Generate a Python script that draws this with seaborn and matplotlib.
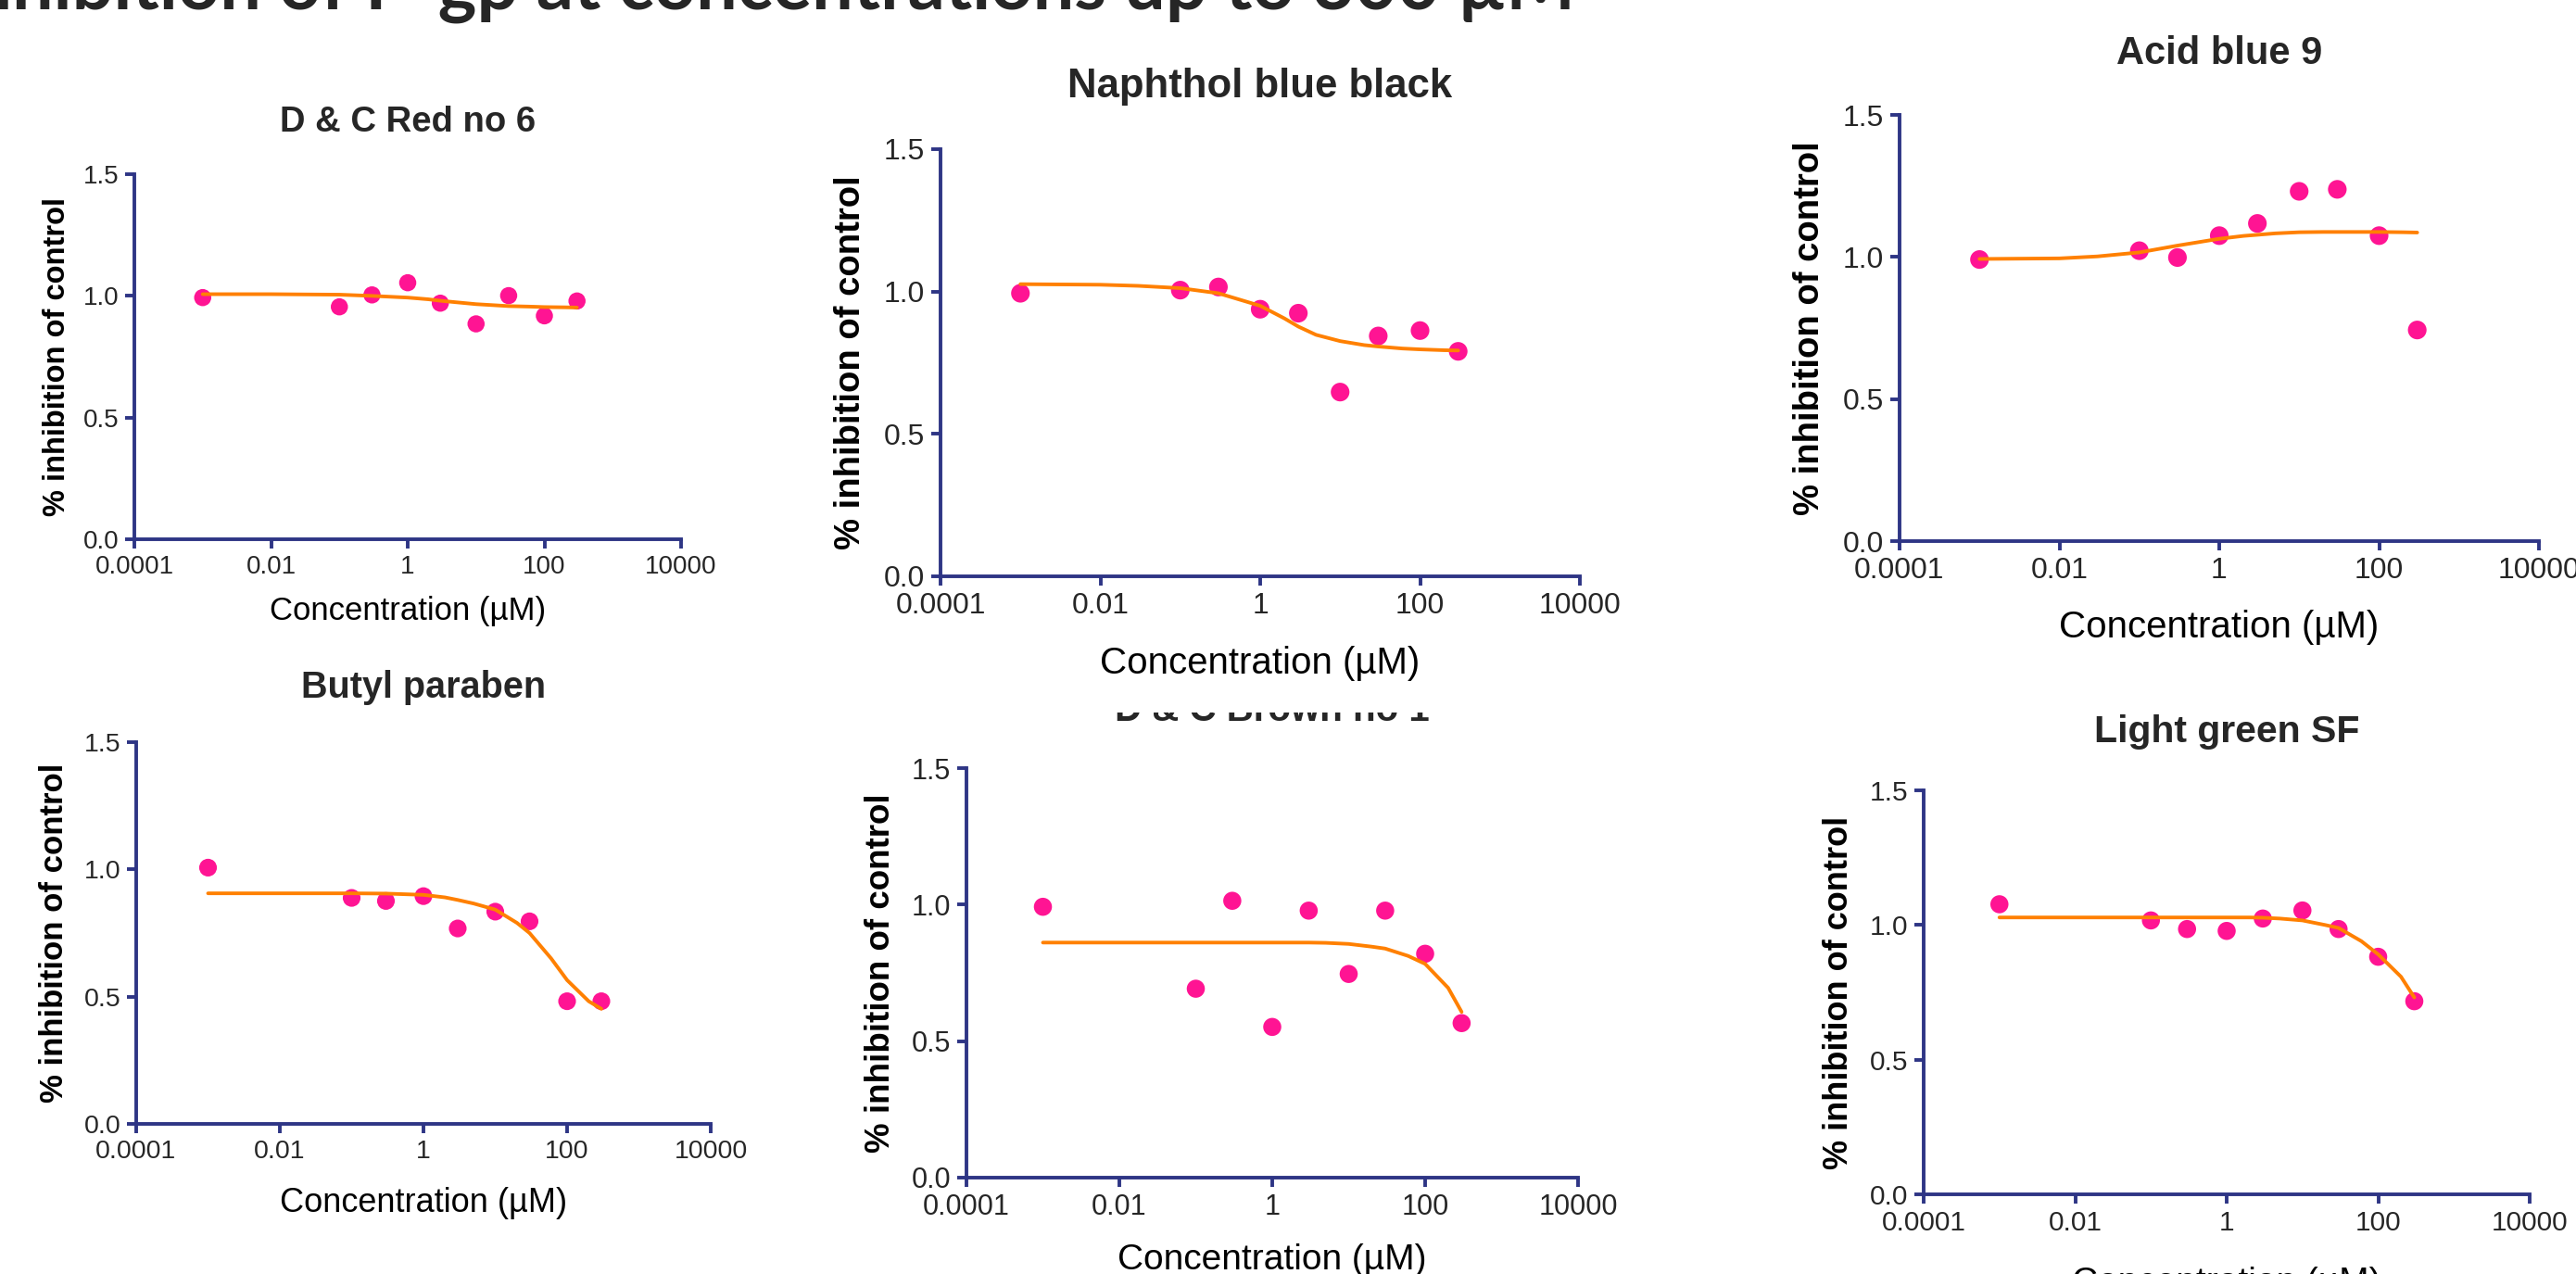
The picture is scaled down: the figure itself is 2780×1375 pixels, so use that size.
import matplotlib
matplotlib.use("Agg")
import matplotlib.pyplot as plt
from matplotlib.patches import Rectangle
from matplotlib.ticker import NullLocator
import seaborn as sns

sns.set_style("ticks")
plt.rcParams['font.family'] = ['Liberation Sans', 'DejaVu Sans']

# concentrations tested (uM) and the x positions used to trace the fitted curves
conc = [0.001, 0.1, 0.3, 1, 3, 10, 30, 100, 300]
fit_conc = [0.001, 0.01, 0.03, 0.1, 0.3, 1, 2, 3, 5, 10, 20, 30, 60, 100, 200, 300]

red6_obs = [0.993, 0.955, 1.004, 1.054, 0.970, 0.885, 1.001, 0.918, 0.979]
naphthol_obs = [0.994, 1.005, 1.016, 0.938, 0.924, 0.647, 0.844, 0.863, 0.790]
acid9_obs = [0.991, 1.022, 0.998, 1.075, 1.118, 1.231, 1.238, 1.075, 0.743]
butyl_obs = [1.007, 0.888, 0.876, 0.895, 0.768, 0.834, 0.796, 0.482, 0.482]
brown1_obs = [0.992, 0.692, 1.014, 0.552, 0.978, 0.746, 0.978, 0.820, 0.566]
lgreen_obs = [1.077, 1.017, 0.985, 0.978, 1.024, 1.054, 0.985, 0.882, 0.717]

# fitted curves at fit_conc
red6_fit = [1.007, 1.007, 1.006, 1.005, 1.000, 0.993, 0.986, 0.980, 0.974, 0.966,
            0.961, 0.958, 0.956, 0.954, 0.953, 0.952]
naphthol_fit = [1.026, 1.024, 1.020, 1.012, 0.994, 0.950, 0.906, 0.877, 0.848, 0.826,
                0.812, 0.807, 0.800, 0.797, 0.794, 0.793]
acid9_fit = [0.993, 0.995, 1.002, 1.016, 1.040, 1.064, 1.074, 1.078, 1.083, 1.087,
             1.088, 1.088, 1.088, 1.088, 1.087, 1.086]
butyl_fit = [0.906, 0.906, 0.906, 0.906, 0.905, 0.900, 0.890, 0.880, 0.866, 0.842,
             0.790, 0.750, 0.650, 0.565, 0.482, 0.452]
brown1_fit = [0.861, 0.861, 0.861, 0.861, 0.861, 0.861, 0.861, 0.861, 0.860, 0.856,
              0.846, 0.839, 0.812, 0.783, 0.695, 0.607]
lgreen_fit = [1.028, 1.028, 1.028, 1.028, 1.028, 1.028, 1.028, 1.027, 1.024, 1.017,
              1.000, 0.989, 0.940, 0.891, 0.808, 0.731]

names = ["D & C Red no 6", "Naphthol blue black", "Acid blue 9",
         "Butyl paraben", "D & C Brown no 1", "Light green SF"]
observed = [red6_obs, naphthol_obs, acid9_obs, butyl_obs, brown1_obs, lgreen_obs]
fitted = [red6_fit, naphthol_fit, acid9_fit, butyl_fit, brown1_fit, lgreen_fit]

xticks = [1e-4, 1e-2, 1, 1e2, 1e4]
xticklabels = ["0.0001", "0.01", "1", "100", "10000"]
yticks = [0.0, 0.5, 1.0, 1.5]
yticklabels = ["0.0", "0.5", "1.0", "1.5"]

W, H = 2780, 1375

def fx(x):
    return x / W

def fy(y):
    return 1 - y / H

# layout of each pasted panel in pixels: axes box (left, top, right, bottom),
# title baseline, ylabel x, xlabel y, font sizes (tick, ylabel, xlabel, title), marker scale
layout = [
    dict(box=(145, 188, 735, 582), tb=142, yl=62, xl=660, fs=(20, 23.5, 25, 27.5), m=0.92),
    dict(box=(1015, 161, 1705, 622), tb=105, yl=918, xl=716, fs=(23, 27.5, 29, 31.5), m=1.0),
    dict(box=(2050, 124, 2740, 584), tb=69, yl=1953, xl=677, fs=(23, 27.5, 29, 30), m=1.0),
    dict(box=(147, 801, 767, 1213), tb=753, yl=59, xl=1298, fs=(20.5, 25, 26, 28.5), m=0.95),
    dict(box=(1043, 829, 1703, 1271), tb=778, yl=950, xl=1360, fs=(22, 26.5, 28, 29), m=0.97),
    dict(box=(2076, 853, 2730, 1289), tb=801, yl=1984, xl=1385, fs=(21.5, 26, 28, 29.5), m=0.97),
]

navy = "#2E3585"
pink = "#FF1493"
orange = "#FF8000"

fig = plt.figure(figsize=(W / 100, H / 100), dpi=100)
fig.patch.set_facecolor("white")

for name, obs, fit, lay in zip(names, observed, fitted, layout):
    x0, y0, x1, y1 = lay["box"]
    fs_tick, fs_yl, fs_xl, fs_title = lay["fs"]
    ax = fig.add_axes([fx(x0), fy(y1), (x1 - x0) / W, (y1 - y0) / H])
    ax.set_facecolor("none")

    sns.scatterplot(x=conc, y=obs, ax=ax, color=pink, s=210 * lay["m"] ** 2,
                    edgecolor="none", zorder=3)
    sns.lineplot(x=fit_conc, y=fit, ax=ax, color=orange, linewidth=2.8, zorder=4)

    ax.set_xscale("log")
    ax.set_xlim(1e-4, 1e4)
    ax.set_ylim(0, 1.5)
    ax.set_xticks(xticks)
    ax.set_xticklabels(xticklabels)
    ax.set_yticks(yticks)
    ax.set_yticklabels(yticklabels)
    ax.xaxis.set_minor_locator(NullLocator())
    ax.tick_params(axis="both", length=7, width=2.8, color=navy, labelsize=fs_tick,
                   labelcolor="#262626", pad=5)
    for side in ["top", "right"]:
        ax.spines[side].set_visible(False)
    for side in ["left", "bottom"]:
        ax.spines[side].set_color(navy)
        ax.spines[side].set_linewidth(2.8)

    w = x1 - x0
    h = y1 - y0
    ax.set_ylabel("% inhibition of control", fontsize=fs_yl, fontweight="bold", color="black")
    ax.yaxis.label.set_va("center")
    ax.yaxis.set_label_coords(-(x0 - lay["yl"]) / w, 0.5)
    ax.set_xlabel("Concentration (µM)", fontsize=fs_xl, color="black")
    ax.xaxis.label.set_va("center")
    ax.xaxis.set_label_coords(0.5, -(lay["xl"] - y1) / h)

    fig.text(fx((x0 + x1) / 2), fy(lay["tb"]), name, ha="center", va="baseline",
             fontsize=fs_title, fontweight="bold", zorder=5)

# the Naphthol panel image overlaps the top of the D & C Brown title
fig.add_artist(Rectangle((fx(1140), fy(769)), (1610 - 1140) / W, (769 - 738) / H,
                         transform=fig.transFigure, facecolor="white",
                         edgecolor="none", zorder=10))

# slide title, cut off by the top edge
fig.text(fx(1700), fy(10), "Inhibition of P-gp at concentrations up to 300 µM",
         ha="right", va="baseline", fontsize=57, fontweight="bold",
         family=["Lato", "DejaVu Sans"])

fig.savefig("out.png", dpi=100, facecolor="white")
